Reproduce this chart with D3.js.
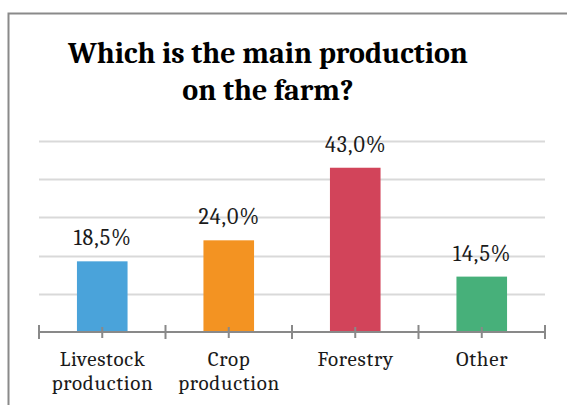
<!DOCTYPE html>
<html>
<head>
<meta charset="utf-8">
<script src="https://cdn.jsdelivr.net/npm/d3@7"></script>
<style>
  html, body { margin: 0; padding: 0; background: #fff; }
  svg { display: block; }
</style>
</head>
<body>
<svg id="chart" width="567" height="405"></svg>
<script>
// Survey answers: main production on the farm (% of respondents)
const categories = ["Livestock production", "Crop production", "Forestry", "Other"];
const categoryLines = [["Livestock", "production"], ["Crop", "production"], ["Forestry"], ["Other"]];
const shares = [18.5, 24.0, 43.0, 14.5];
const barColors = ["#4aa3da", "#f39322", "#d2445a", "#47b07a"];
const gridTicks = [10, 20, 30, 40, 50];
const titleLines = ["Which is the main production", "on the farm?"];

const serif = "Cambria, 'DejaVu Serif', 'Liberation Serif', serif";

const svg = d3.select("#chart");
const W = 567, H = 405;

// outer frame of the chart area
svg.append("rect")
  .attr("x", 8.5).attr("y", 13.5)
  .attr("width", W + 10).attr("height", H + 10)
  .attr("fill", "#fff").attr("stroke", "#8a8a8a").attr("stroke-width", 2);

// title
const title = svg.append("text")
  .attr("text-anchor", "middle")
  .attr("font-family", serif)
  .attr("font-weight", "bold")
  .attr("font-size", 30)
  .attr("fill", "#000");
titleLines.forEach((t, i) => {
  title.append("tspan").attr("x", 268).attr("y", 63 + i * 37).text(t);
});

const plot = { left: 39, right: 545, top: 141, bottom: 332 };

const x = d3.scaleBand()
  .domain(categories)
  .range([plot.left, plot.right])
  .paddingInner(0.6)
  .paddingOuter(0.3);

const y = d3.scaleLinear()
  .domain([0, 50])
  .range([plot.bottom, plot.top]);

// horizontal gridlines
svg.append("g")
  .selectAll("line")
  .data(gridTicks)
  .join("line")
  .attr("x1", plot.left).attr("x2", plot.right)
  .attr("y1", d => Math.round(y(d)) + 0.5).attr("y2", d => Math.round(y(d)) + 0.5)
  .attr("stroke", "#d9d9d9").attr("stroke-width", 2);

// bars
svg.append("g")
  .selectAll("rect")
  .data(shares)
  .join("rect")
  .attr("x", (d, i) => x(categories[i]))
  .attr("width", x.bandwidth())
  .attr("y", d => y(d))
  .attr("height", d => y(0) - y(d))
  .attr("fill", (d, i) => barColors[i]);

// category axis: line, ticks at band edges and centres
const axisG = svg.append("g").attr("stroke", "#898989").attr("stroke-width", 2);
axisG.append("line")
  .attr("x1", plot.left).attr("x2", plot.right)
  .attr("y1", plot.bottom).attr("y2", plot.bottom);
const edges = d3.range(categories.length + 1).map(i => plot.left + i * (plot.right - plot.left) / categories.length);
axisG.selectAll("line.edge")
  .data(edges)
  .join("line")
  .attr("class", "edge")
  .attr("x1", d => d).attr("x2", d => d)
  .attr("y1", plot.bottom - 7).attr("y2", plot.bottom + 7);
axisG.selectAll("line.mid")
  .data(categories)
  .join("line")
  .attr("class", "mid")
  .attr("x1", d => x(d) + x.bandwidth() / 2).attr("x2", d => x(d) + x.bandwidth() / 2)
  .attr("y1", plot.bottom - 5).attr("y2", plot.bottom + 6);

// value labels
const fmt = v => d3.format(".1f")(v).replace(".", ",") + "%";
svg.append("g")
  .selectAll("text")
  .data(shares)
  .join("text")
  .attr("x", (d, i) => x(categories[i]) + x.bandwidth() / 2 + 0.5)
  .attr("y", d => y(d) - 16)
  .attr("text-anchor", "middle")
  .attr("font-family", serif)
  .attr("font-size", 22)
  .attr("letter-spacing", 1)
  .attr("fill", "#1a1a1a")
  .text(d => fmt(d));

// category labels
const cat = svg.append("g")
  .selectAll("text")
  .data(categories)
  .join("text")
  .attr("text-anchor", "middle")
  .attr("font-family", serif)
  .attr("font-size", 21)
  .attr("letter-spacing", 0.7)
  .attr("fill", "#1a1a1a");
cat.each(function (d, i) {
  const cx = x(d) + x.bandwidth() / 2 + 0.35;
  categoryLines[i].forEach((line, j) => {
    d3.select(this).append("tspan").attr("x", cx).attr("y", 366 + j * 24).text(line);
  });
});
</script>
</body>
</html>
